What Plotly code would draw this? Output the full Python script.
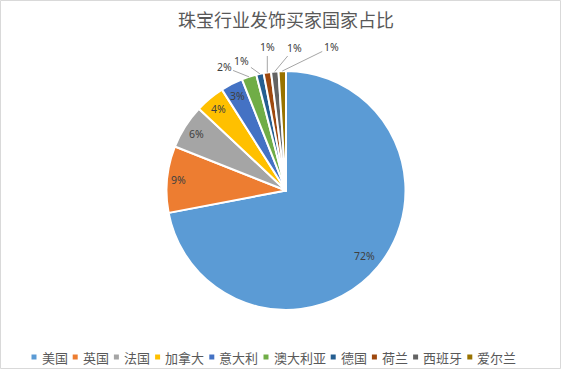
import math
import plotly.graph_objects as go

# ---- data ----
countries = ["美国", "英国", "法国", "加拿大", "意大利", "澳大利亚", "德国", "荷兰", "西班牙", "爱尔兰"]
shares = [72, 9, 6, 4, 3, 2, 1, 1, 1, 1]
title_text = "珠宝行业发饰买家国家占比"

# ---- style ----
colors = ["#5B9BD5", "#ED7D31", "#A5A5A5", "#FFC000", "#4472C4",
          "#70AD47", "#255E91", "#9E480E", "#636363", "#997300"]
W, H = 561, 370
CX, CY, R = 286, 190.5, 119.5
inside_r = [0.855, 0.9, 0.89, 0.89, 0.885]          # label radius fractions for inside labels
outside_off = [(-25, -10), (-18, -13), (0, -25), (20, -24), (49, -24)]  # pixel offsets for leader-line labels
label_font = dict(family="Noto Sans, Liberation Sans, sans-serif", size=10.5, color="#404040")
cjk = "Noto Sans CJK SC"


def px(x):
    return x / W


def py(y):
    return 1 - y / H


fig = go.Figure(go.Pie(
    labels=countries, values=shares, sort=False, direction="clockwise", rotation=0,
    marker=dict(colors=colors, line=dict(color="white", width=2)),
    textinfo="none", hoverinfo="label+percent", showlegend=False,
    domain=dict(x=[px(CX - R), px(CX + R)], y=[py(CY + R), py(CY - R)]),
))

annotations = []
total = sum(shares)
cum = 0
n_in = len(inside_r)
for i, v in enumerate(shares):
    mid = (cum + v / 2) / total * 2 * math.pi
    cum += v
    txt = f"{v / total * 100:.0f}%"
    if i < n_in:
        rr = R * inside_r[i]
        x = CX + rr * math.sin(mid)
        y = CY - rr * math.cos(mid)
        annotations.append(dict(x=px(x), y=py(y), xref="paper", yref="paper", text=txt,
                                showarrow=False, font=label_font, xanchor="center", yanchor="middle"))
    else:
        ax, ay = outside_off[i - n_in]
        x = CX + R * math.sin(mid)
        y = CY - R * math.cos(mid)
        annotations.append(dict(x=px(x), y=py(y), xref="paper", yref="paper", text=txt,
                                showarrow=True, arrowhead=0, arrowwidth=1, arrowcolor="#A6A6A6",
                                ax=ax, ay=ay, standoff=0, font=label_font))

# custom legend row
shapes = []
lx = 31.5
ly = 357
fs = 13
for name, c in zip(countries, colors):
    shapes.append(dict(type="rect", xref="paper", yref="paper",
                       x0=px(lx), x1=px(lx + 5), y0=py(ly + 2.5), y1=py(ly - 2.5),
                       fillcolor=c, line=dict(width=0)))
    annotations.append(dict(x=px(lx + 8), y=py(ly), xref="paper", yref="paper", text=name,
                            showarrow=False, xanchor="left", yanchor="middle",
                            font=dict(family=cjk, size=fs, color="#595959")))
    lx += 5 + 3 + fs * len(name) + 7.2

# chart border
shapes.append(dict(type="rect", xref="paper", yref="paper",
                   x0=px(0.5), x1=px(560.5), y0=py(368.5), y1=py(0.5),
                   line=dict(color="#D9D9D9", width=1), fillcolor="rgba(0,0,0,0)"))

fig.update_layout(
    width=W, height=H,
    margin=dict(l=0, r=0, t=0, b=0),
    paper_bgcolor="white", plot_bgcolor="white",
    title=dict(text=title_text, x=px(286), xanchor="center", y=py(20.5), yanchor="middle",
               font=dict(family=cjk, size=18, color="#595959")),
    annotations=annotations, shapes=shapes,
)

fig.write_html("out.html", config={"displayModeBar": False},
               post_script="document.body.style.margin='0';document.body.style.overflow='hidden';")
